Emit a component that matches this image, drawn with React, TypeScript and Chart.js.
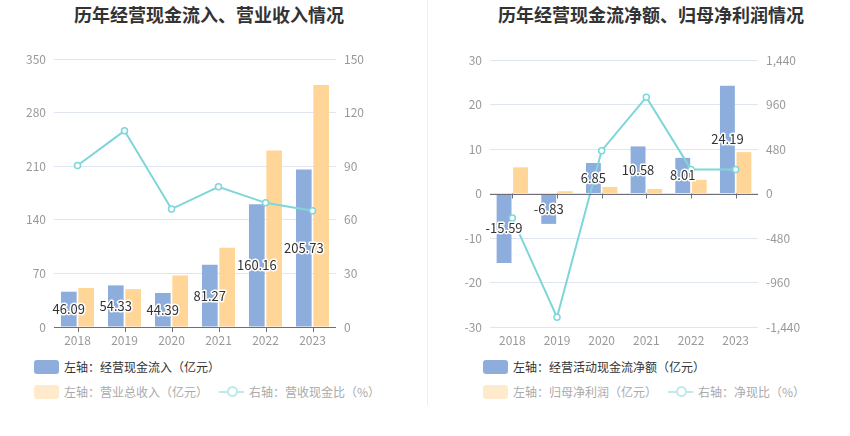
import React, { useEffect, useRef } from "react";
import { Chart, registerables } from "chart.js";

Chart.register(...registerables);

const years = ["2018", "2019", "2020", "2021", "2022", "2023"];

// Left chart
const cashInflow = [46.09, 54.33, 44.39, 81.27, 160.16, 205.73];
const revenue = [51.0, 49.5, 67.3, 103.5, 230.5, 316.0];
const cashRevenueRatio = [90.4, 109.8, 66.0, 78.5, 69.5, 65.1];

// Right chart
const netCashFlow = [-15.59, -6.83, 6.85, 10.58, 8.01, 24.19];
const netProfit = [5.88, 0.51, 1.48, 1.02, 3.08, 9.3];
const netCashRatio = [-265, -1335, 462, 1039, 260, 260];

const leftAxisTicks = { min: 0, max: 350, step: 70 };
const leftAxis2Ticks = { min: 0, max: 150, step: 30 };
const rightAxisTicks = { min: -30, max: 30, step: 10 };
const rightAxis2Ticks = { min: -1440, max: 1440, step: 480 };

const BLUE = "#8DAEDD";
const ORANGE = "#FFD697";
const TEAL = "#7FD6D9";
const GRID = "#E0E6F1";
const AXIS = "#6E7079";
const TICK = "#999999";
const FONT = "'Noto Sans CJK SC', 'Noto Sans', sans-serif";

const labelPlugin = {
  id: "barLabels",
  afterDatasetsDraw(chart: any) {
    const ctx = chart.ctx;
    const meta = chart.getDatasetMeta(0);
    const data = chart.data.datasets[0].data as number[];
    ctx.save();
    ctx.font = `13px ${FONT}`;
    ctx.textAlign = "center";
    ctx.textBaseline = "middle";
    ctx.lineJoin = "round";
    meta.data.forEach((el: any, i: number) => {
      const x = el.x;
      const y = (el.y + el.base) / 2;
      const t = data[i].toFixed(2);
      ctx.lineWidth = 3;
      ctx.strokeStyle = "#ffffff";
      ctx.strokeText(t, x, y);
      ctx.fillStyle = "#333333";
      ctx.fillText(t, x, y);
    });
    ctx.restore();
  },
};

const tickMarkPlugin = {
  id: "zeroTicks",
  afterDraw(chart: any) {
    const ctx = chart.ctx;
    const xs = chart.scales.x;
    const ys = chart.scales.y;
    const y0 = ys.getPixelForValue(0);
    ctx.save();
    ctx.strokeStyle = AXIS;
    ctx.lineWidth = 1;
    ctx.beginPath();
    ctx.moveTo(chart.chartArea.left, Math.round(y0) + 0.5);
    ctx.lineTo(chart.chartArea.right, Math.round(y0) + 0.5);
    for (let i = 0; i < years.length; i++) {
      const x = Math.round(xs.getPixelForValue(i)) + 0.5;
      ctx.moveTo(x, y0);
      ctx.lineTo(x, y0 + 5);
    }
    ctx.stroke();
    ctx.restore();
  },
};

function makeConfig(
  bar1: number[],
  bar2: number[],
  line: number[],
  names: string[],
  a1: { min: number; max: number; step: number },
  a2: { min: number; max: number; step: number },
  leftW: number,
  rightW: number,
  top: number,
  bottomH: number
): any {
  return {
    type: "bar",
    data: {
      labels: years,
      datasets: [
        {
          type: "bar",
          label: names[0],
          data: bar1,
          backgroundColor: BLUE,
          yAxisID: "y",
          categoryPercentage: 0.74,
          barPercentage: 0.9,
          order: 2,
        },
        {
          type: "bar",
          label: names[1],
          data: bar2,
          backgroundColor: ORANGE,
          yAxisID: "y",
          categoryPercentage: 0.74,
          barPercentage: 0.9,
          order: 2,
        },
        {
          type: "line",
          label: names[2],
          data: line,
          borderColor: TEAL,
          backgroundColor: "#ffffff",
          borderWidth: 2,
          pointRadius: 3,
          pointBorderWidth: 1.5,
          pointBackgroundColor: "#ffffff",
          pointBorderColor: TEAL,
          tension: 0,
          yAxisID: "y1",
          order: 1,
        },
      ],
    },
    options: {
      responsive: false,
      animation: false,
      layout: { padding: { top, left: 0, right: 0, bottom: 0 } },
      plugins: { legend: { display: false }, tooltip: { enabled: false }, title: { display: false } },
      scales: {
        x: {
          grid: { display: false, drawTicks: false },
          border: { display: false },
          ticks: { color: TICK, font: { size: 12, family: FONT }, padding: 6 },
          afterFit(s: any) {
            s.height = bottomH;
          },
        },
        y: {
          position: "left",
          min: a1.min,
          max: a1.max,
          grid: {
            color: GRID,
            drawTicks: false,
          },
          border: { display: false },
          ticks: {
            stepSize: a1.step,
            color: TICK,
            padding: 8,
            font: { size: 12, family: FONT },
          },
          afterFit(s: any) {
            s.width = leftW;
          },
        },
        y1: {
          position: "right",
          min: a2.min,
          max: a2.max,
          grid: { drawOnChartArea: false, drawTicks: false },
          border: { display: false },
          ticks: {
            stepSize: a2.step,
            color: TICK,
            padding: 8,
            font: { size: 12, family: FONT },
            callback: (v: number) => v.toLocaleString("en-US"),
          },
          afterFit(s: any) {
            s.width = rightW;
          },
        },
      },
    },
    plugins: [tickMarkPlugin, labelPlugin],
  };
}

const leftNames = ["左轴：经营现金流入（亿元）", "左轴：营业总收入（亿元）", "右轴：营收现金比（%）"];
const rightNames = ["左轴：经营活动现金流净额（亿元）", "左轴：归母净利润（亿元）", "右轴：净现比（%）"];

function Legend({ names, x, lineX }: { names: string[]; x: number; lineX: number }) {
  const textStyle: any = {
    position: "absolute",
    fontSize: 12,
    fontFamily: FONT,
    lineHeight: "14px",
    whiteSpace: "nowrap",
  };
  return (
    <>
      <div style={{ position: "absolute", left: x, top: 360, width: 25, height: 14, borderRadius: 3, background: BLUE }} />
      <div style={{ ...textStyle, left: x + 30, top: 360, color: "#333" }}>{names[0]}</div>
      <div style={{ position: "absolute", left: x, top: 385, width: 25, height: 14, borderRadius: 3, background: "#FFEBCC" }} />
      <div style={{ ...textStyle, left: x + 30, top: 385, color: "#aaa" }}>{names[1]}</div>
      <div style={{ position: "absolute", left: lineX, top: 391, width: 25, height: 2, background: "#BDEAEC" }} />
      <div
        style={{
          position: "absolute",
          left: lineX + 7.5,
          top: 386,
          width: 7,
          height: 7,
          borderRadius: "50%",
          border: "2px solid #BDEAEC",
          background: "#fff",
        }}
      />
      <div style={{ ...textStyle, left: lineX + 30, top: 385, color: "#aaa" }}>{names[2]}</div>
    </>
  );
}

export default function App() {
  const leftRef = useRef<HTMLCanvasElement>(null);
  const rightRef = useRef<HTMLCanvasElement>(null);

  useEffect(() => {
    document.body.style.margin = "0";
    const c1 = new Chart(
      leftRef.current as HTMLCanvasElement,
      makeConfig(cashInflow, revenue, cashRevenueRatio, leftNames, leftAxisTicks, leftAxis2Ticks, 54, 89, 59, 23)
    );
    const c2 = new Chart(
      rightRef.current as HTMLCanvasElement,
      makeConfig(netCashFlow, netProfit, netCashRatio, rightNames, rightAxisTicks, rightAxis2Ticks, 65, 92, 60, 23)
    );
    return () => {
      c1.destroy();
      c2.destroy();
    };
  }, []);

  const titleStyle: any = {
    position: "absolute",
    top: 3,
    width: 400,
    textAlign: "center",
    fontSize: 18,
    fontWeight: "bold",
    fontFamily: FONT,
    color: "#333",
    lineHeight: "22px",
  };

  return (
    <div style={{ position: "relative", width: 850, height: 436, background: "#fff", overflow: "hidden" }}>
      <div style={{ ...titleStyle, left: 209 - 200 }}>历年经营现金流入、营业收入情况</div>
      <div style={{ ...titleStyle, left: 651 - 200 }}>历年经营现金流净额、归母净利润情况</div>
      <div style={{ position: "absolute", left: 427, top: 0, width: 1, height: 405, background: "#EEEEEE" }} />
      <canvas ref={leftRef} width={425} height={350} style={{ position: "absolute", left: 0, top: 0, width: 425, height: 350 }} />
      <canvas ref={rightRef} width={425} height={350} style={{ position: "absolute", left: 425, top: 0, width: 425, height: 350 }} />
      <Legend names={leftNames} x={34} lineX={219} />
      <Legend names={rightNames} x={483} lineX={668} />
    </div>
  );
}
